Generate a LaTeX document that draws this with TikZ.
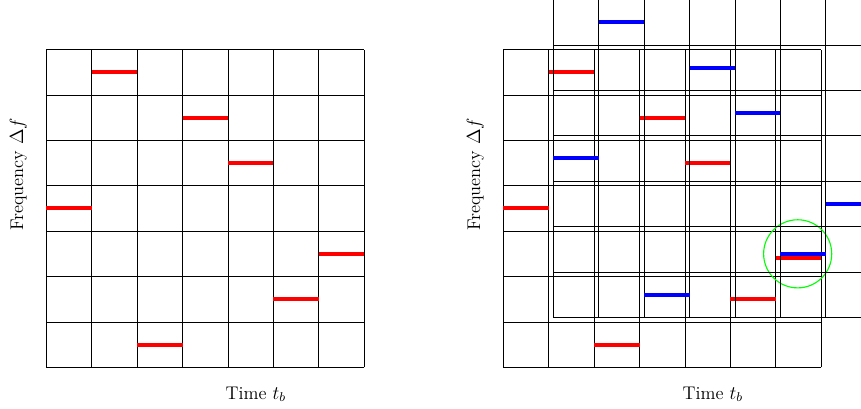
\documentclass[tikz,border=0pt]{standalone}
\begin{document}
\begin{tikzpicture}[
  gridline/.style={line width=0.5pt, black},
  hopred/.style={line width=2.5pt, red},
  hopblue/.style={line width=2.5pt, blue},
  lbl/.style={font=\fontsize{11.5}{13}\selectfont, inner sep=0pt},
  mark circle/.style={circle, draw={rgb,1:red,0;green,1;blue,0}, line width=0.7pt, minimum size=1.5cm, inner sep=0pt}
]
\useasboundingbox (0,0) rectangle (18.965,8.987);
\clip (0,0) rectangle (18.965,8.987);
% left grid
\begin{scope}[shift={(1.024,0.896)}]
  \draw[gridline] (0,0) grid (7,7);
  \foreach \c [count=\r from 0] in {1,3,4,0,6,5,2}
    \draw[hopred] (\c,6.5-\r) -- (\c+1,6.5-\r);
  \node[lbl, rotate=90] (flabelL) at (-0.62,4.25) {Frequency $\Delta f$};
  \node[lbl, anchor=base] (tlabelL) at (4.61,-0.698) {Time $t_b$};
\end{scope}
% right: red grid
\begin{scope}[shift={(11.090,0.896)}]
  \draw[gridline] (0,0) grid (7,7);
  \draw[hopred] (1,6.5) -- (2,6.5);
  \draw[hopred] (3,5.5) -- (4,5.5);
  \draw[hopred] (4,4.5) -- (5,4.5);
  \draw[hopred] (0,3.5) -- (1,3.5);
  \draw[hopred] (6,2.4) -- (7,2.4);
  \draw[hopred] (5,1.5) -- (6,1.5);
  \draw[hopred] (2,0.5) -- (3,0.5);
  \node[lbl, rotate=90] (flabelR) at (-0.62,4.25) {Frequency $\Delta f$};
  \node[lbl, anchor=base] (tlabelR) at (4.61,-0.698) {Time $t_b$};
  \node[mark circle] (collision) at (6.48,2.5) {};
\end{scope}
% right: blue (shifted) grid
\begin{scope}[shift={(12.19,1.996)}]
  \draw[gridline] (0,0) grid (7,7);
  \draw[hopblue] (1,6.5) -- (2,6.5);
  \draw[hopblue] (3,5.5) -- (4,5.5);
  \draw[hopblue] (4,4.5) -- (5,4.5);
  \draw[hopblue] (0,3.5) -- (1,3.5);
  \draw[hopblue] (6,2.5) -- (7,2.5);
  \draw[hopblue] (5,1.4) -- (6,1.4);
  \draw[hopblue] (2,0.5) -- (3,0.5);
\end{scope}
\end{tikzpicture}
\end{document}
